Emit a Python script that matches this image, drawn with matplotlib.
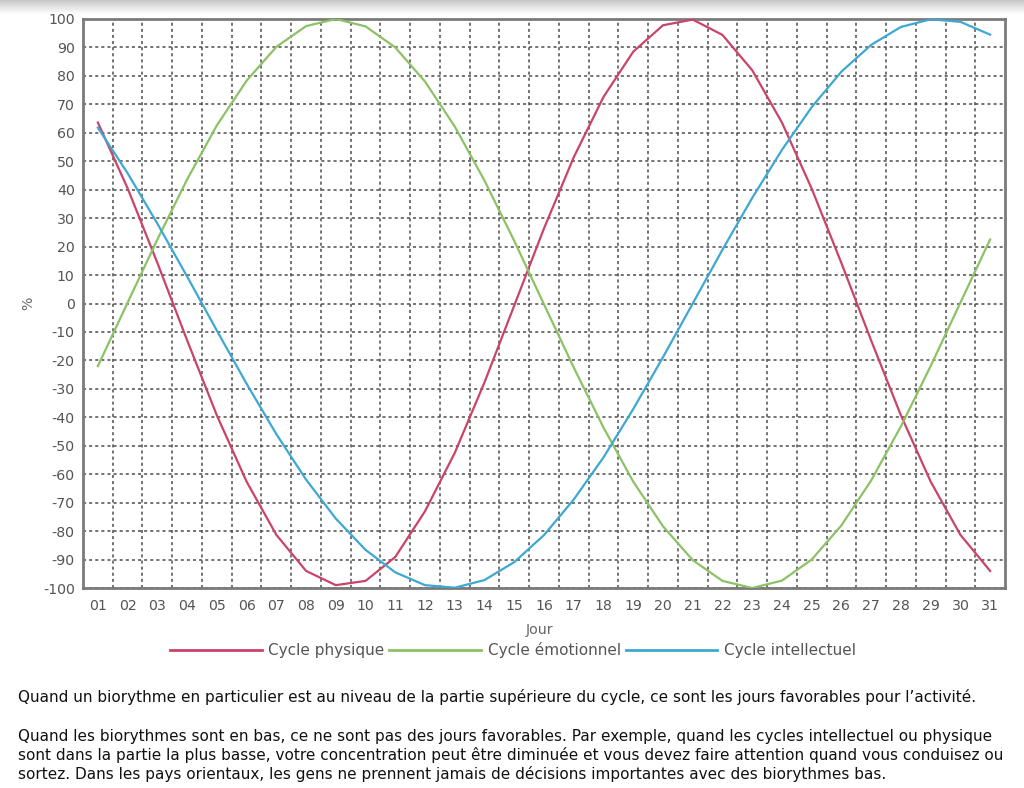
import numpy as np
import matplotlib
matplotlib.use("Agg")
import matplotlib.pyplot as plt
from matplotlib.lines import Line2D

plt.rcParams["font.family"] = ["DejaVu Sans"]
plt.rcParams["axes.unicode_minus"] = False

days = list(range(1, 32))
day_labels = [f"{d:02d}" for d in days]

physique = [63.6, 40.5, 14.3, -12.9, -39.3, -62.6, -81.3, -94.0, -99.0, -97.5,
            -89.1, -73.0, -52.5, -27.7, -0.7, 26.4, 51.4, 72.6, 88.5, 97.8,
            99.8, 94.4, 82.0, 63.6, 40.4, 14.2, -13.0, -39.3, -62.6, -81.3, -94.0]
emotionnel = [-22.0, 0.3, 22.5, 43.6, 62.6, 78.3, 90.2, 97.5, 100.0, 97.4,
              90.0, 78.0, 62.2, 43.2, 22.0, -0.3, -22.5, -43.6, -62.6, -78.3,
              -90.2, -97.5, -100.0, -97.4, -90.0, -78.0, -62.2, -43.2, -22.0, 0.3, 22.5]
intellectuel = [61.8, 45.8, 28.1, 9.5, -9.5, -28.2, -45.9, -61.9, -75.6, -86.6,
                -94.5, -99.0, -99.9, -97.2, -90.9, -81.4, -68.9, -54.1, -37.1, -18.9,
                0.0, 18.9, 37.1, 54.0, 69.0, 81.5, 90.9, 97.2, 99.9, 99.0, 94.5]

series_names = ["Cycle physique", "Cycle émotionnel", "Cycle intellectuel"]
colors = ["#C94468", "#8CC265", "#3DA8D2"]

paragraph1 = "Quand un biorythme en particulier est au niveau de la partie supérieure du cycle, ce sont les jours favorables pour l\u2019activité."
paragraph2 = ["Quand les biorythmes sont en bas, ce ne sont pas des jours favorables. Par exemple, quand les cycles intellectuel ou physique",
              "sont dans la partie la plus basse, votre concentration peut être diminuée et vous devez faire attention quand vous conduisez ou",
              "sortez. Dans les pays orientaux, les gens ne prennent jamais de décisions importantes avec des biorythmes bas."]

W, H = 1024, 788
fig = plt.figure(figsize=(W / 100, H / 100), dpi=100)

# top grey shadow band (screenshot artefact)
shadow = fig.add_axes([0, 1 - 14 / H, 1, 14 / H])
grad = np.linspace(0.78, 1.0, 50).reshape(-1, 1)
shadow.imshow(np.repeat(grad, 2, axis=1), cmap="gray", vmin=0, vmax=1, aspect="auto",
              extent=[0, 1, 0, 1])
shadow.axis("off")

left, right, top, bottom = 83, 1005, 19, 588
ax = fig.add_axes([left / W, 1 - bottom / H, (right - left) / W, (bottom - top) / H])

for vals, c, name in zip([physique, emotionnel, intellectuel], colors, series_names):
    ax.plot(days, vals, color=c, lw=1.6, label=name, zorder=3)

ax.set_xlim(0.5, 31.5)
ax.set_ylim(-100, 100)
ax.set_xticks(days)
ax.set_xticklabels(day_labels)
ax.set_yticks(range(-100, 101, 10))
ax.set_xticks(np.arange(1.5, 31.5, 1), minor=True)
ax.tick_params(which="both", length=0)
ax.tick_params(axis="x", pad=8)
ax.tick_params(axis="y", pad=6)
for lab in ax.get_xticklabels() + ax.get_yticklabels():
    lab.set_color("#555555")
    lab.set_fontsize(10.2)

ax.grid(False)
ax.grid(True, which="minor", axis="x", color="#4d4d4d", ls=(0, (2, 2)), lw=1.1)
ax.grid(True, which="major", axis="y", color="#4d4d4d", ls=(0, (2, 2)), lw=1.1)
for s in ax.spines.values():
    s.set_color("#7a7a7a")
    s.set_linewidth(2)

fig.text(28 / W, 1 - 303 / H, "%", rotation=90, ha="center", va="center",
         color="#666666", fontsize=10.2)
fig.text(540 / W, 1 - 630 / H, "Jour", ha="center", va="center", color="#666666", fontsize=10.2)

handles = [Line2D([0], [0], color=c, lw=2) for c in colors]
fig.legend(handles, series_names, loc="center", bbox_to_anchor=(513 / W, 1 - 650 / H),
           ncol=3, frameon=False, handlelength=6.0, handletextpad=0.45, columnspacing=0.3,
           prop={"size": 11}, labelcolor="#555555")

txt_kw = dict(ha="left", va="center", color="#111111", fontsize=11.0)
fig.text(18 / W, 1 - 697 / H, paragraph1, **txt_kw)
for i, line in enumerate(paragraph2):
    fig.text(18 / W, 1 - (736 + 19 * i) / H, line, **txt_kw)

fig.savefig("out.png", dpi=100, facecolor="white")
